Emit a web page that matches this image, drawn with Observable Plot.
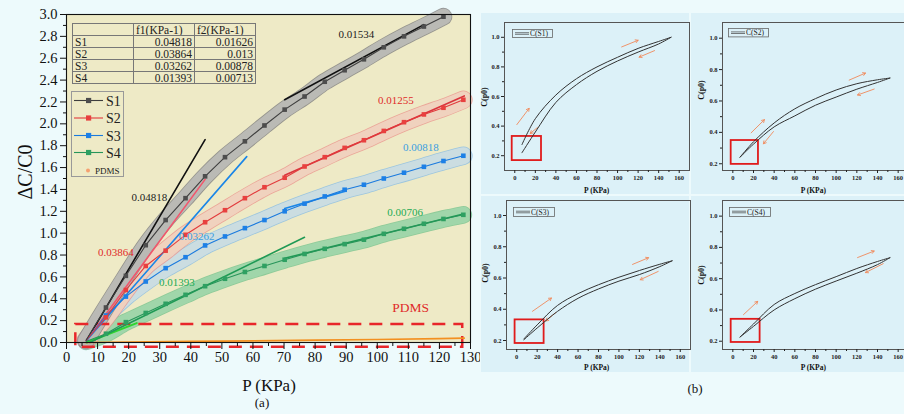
<!DOCTYPE html>
<html><head><meta charset="utf-8">
<script src="https://cdn.jsdelivr.net/npm/d3@7"></script>
<script src="https://cdn.jsdelivr.net/npm/@observablehq/plot@0.6"></script>
<style>
html,body{margin:0;padding:0;background:#edfafc;}
#root{position:relative;width:904px;height:414px;overflow:hidden;background:#edfafc;font-family:"Liberation Serif",serif;color:#111;}
#root > *{position:absolute;}
table.t{border-collapse:collapse;font-size:11.5px;font-family:"Liberation Serif",serif;color:#222;}
table.t td{border:1px solid #777;padding:0 2px;height:11px;line-height:10px;overflow:hidden;}
</style></head><body><div id="root"></div>
<script>
// ---------- DATA (a) ----------
const pressure = [6.3, 12.7, 19.1, 25.5, 31.9, 38.3, 44.6, 51.0, 57.4, 63.7, 70.2, 76.6, 83.1, 89.5, 95.7, 102.1, 108.6, 115.0, 121.3, 127.7];
const s1 = [0.02, 0.32, 0.61, 0.89, 1.12, 1.32, 1.52, 1.695, 1.84, 1.985, 2.13, 2.25, 2.385, 2.49, 2.59, 2.70, 2.80, 2.89, 2.98];
const s2 = [0.02, 0.23, 0.48, 0.70, 0.84, 0.985, 1.10, 1.21, 1.32, 1.42, 1.507, 1.61, 1.695, 1.78, 1.85, 1.935, 2.015, 2.086, 2.147, 2.22];
const s3 = [0.02, 0.247, 0.42, 0.558, 0.68, 0.78, 0.888, 0.97, 1.046, 1.12, 1.20, 1.27, 1.336, 1.397, 1.443, 1.50, 1.553, 1.607, 1.66, 1.708];
const s4 = [0.01, 0.08, 0.186, 0.27, 0.354, 0.436, 0.515, 0.583, 0.645, 0.70, 0.757, 0.81, 0.857, 0.90, 0.94, 0.994, 1.04, 1.086, 1.13, 1.168];
const pdmsX = [6, 20, 40, 60, 80, 100, 120, 128];
const pdmsY = [0, 0.004, 0.01, 0.015, 0.022, 0.028, 0.035, 0.04];
const greenShortX = [6.5, 22.6];
const greenShortY = [0, 0.177];
// linear fits: slope, start x, start y, end x
const fitText  = ["0.04818","0.01534","0.03864","0.01255","0.03262","0.00818","0.01393","0.00706"];
const fitSlope = [0.04818, 0.01534, 0.03864, 0.01255, 0.03262, 0.00818, 0.01393, 0.00706];
const fitX0 = [6.5, 70.2, 6.5, 70.2, 6.5, 70.2, 7.5, 70.2];
const fitY0 = [0.02, 2.22, 0.02, 1.53, 0.02, 1.225, 0.0, 0.77];
const fitX1 = [44.6, 115, 44.6, 128, 58, 90, 76.6, 128];
const fitLabelX = [26.7, 93.3, 15.9, 106, 41.9, 114, 35.5, 109];
const fitLabelY = [1.33, 2.815, 0.82, 2.21, 0.97, 1.78, 0.55, 1.19];
const pdmsBox = [3, 127.5, -0.043, 0.165];
const tableNames = ["S1","S2","S3","S4"];
const tableF1 = ["0.04818","0.03864","0.03262","0.01393"];
const tableF2 = ["0.01626","0.013","0.00878","0.00713"];
const xTicks = [0,10,20,30,40,50,60,70,80,90,100,110,120,130];
const yTicks = [0,0.2,0.4,0.6,0.8,1.0,1.2,1.4,1.6,1.8,2.0,2.2,2.4,2.6,2.8,3.0];

// ---------- DATA (b) ----------
const hx = [7, 20, 40, 60, 80, 100, 120, 140, 152];
const c1Load = [0.275, 0.45, 0.61, 0.72, 0.80, 0.865, 0.925, 0.972, 1.0];
const c1Unload = [0.22, 0.36, 0.56, 0.68, 0.77, 0.84, 0.90, 0.955, 1.0];
const c2Load = [0.242, 0.34, 0.46, 0.55, 0.615, 0.67, 0.71, 0.735, 0.746];
const c2Unload = [0.242, 0.325, 0.435, 0.505, 0.573, 0.625, 0.675, 0.718, 0.746];
const c3Load = [0.21, 0.30, 0.425, 0.50, 0.557, 0.605, 0.648, 0.688, 0.71];
const c3Unload = [0.205, 0.28, 0.387, 0.47, 0.53, 0.58, 0.622, 0.673, 0.71];
const c4Load = [0.227, 0.31, 0.435, 0.505, 0.562, 0.613, 0.665, 0.71, 0.734];
const c4Unload = [0.227, 0.295, 0.40, 0.472, 0.533, 0.585, 0.635, 0.69, 0.734];
const arrows1 = [[2,0.41,14,0.52],[104,0.935,120,0.98],[136,0.91,121,0.866],[22,0.39,15,0.35]];
const arrows2 = [[17.7,0.397,30.6,0.481],[112.6,0.733,128.4,0.778],[136.8,0.676,120.7,0.638],[39.3,0.405,29.6,0.327]];
const arrows3 = [[15.4,0.387,34,0.472],[113.3,0.687,129,0.73],[138.4,0.642,120.8,0.589],[38.2,0.379,28.4,0.325]];
const arrows4 = [[10.3,0.37,24.1,0.455],[120.7,0.735,136.8,0.777],[145.5,0.696,128.4,0.639]];
const boxes = [[-2.5,26,0.167,0.33],[-1.6,24.8,0.196,0.348],[-1.6,26.8,0.181,0.332],[-1.6,26.4,0.192,0.34]];
const subNames = ["C(S1)","C(S2)","C(S3)","C(S4)"];

const root = document.getElementById("root");
const serif = '"Liberation Serif", serif';

function pts(xs, ys, s){ return ys.map((v,i)=>({x: xs[i], y: v, s})); }
const d1 = pts(pressure, s1, "S1"), d2 = pts(pressure, s2, "S2"), d3s = pts(pressure, s3, "S3"), d4 = pts(pressure, s4, "S4");
const pdms = pts(pdmsX, pdmsY, "PDMS");
const gShort = pts(greenShortX, greenShortY, "g");
const fitColors = ["#111","#111","#f2566c","#d9343c","#1a86e8","#1a86e8","#1f9a55","#1f9a55"];
const labelColors = ["#222","#222","#e02a2a","#e02a2a","#3a9ee0","#3a9ee0","#22aa55","#22aa55"];
const fits = [];
fitSlope.forEach((m,i)=>{
  fits.push({k:i, x: fitX0[i], y: fitY0[i]});
  fits.push({k:i, x: fitX1[i], y: fitY0[i] + m*(fitX1[i]-fitX0[i])});
});
const fitLabels = fitText.map((t,i)=>({t, x: fitLabelX[i], y: fitLabelY[i], c: labelColors[i]}));

function band(data, edge, fill, w, eo, fo){
  return [
    Plot.line(data, {x:"x", y:"y", stroke: edge, strokeWidth: w+1.6, strokeOpacity: eo, strokeLinecap:"round", strokeLinejoin:"round", curve:"catmull-rom"}),
    Plot.line(data, {x:"x", y:"y", stroke: fill, strokeWidth: w, strokeOpacity: fo, strokeLinecap:"round", strokeLinejoin:"round", curve:"catmull-rom"})
  ];
}
function ser(data, col, mcol){
  return [
    Plot.line(data, {x:"x", y:"y", stroke: col, strokeWidth: 1.1}),
    Plot.dot(data.slice(1), {x:"x", y:"y", symbol:"square", r: 2.6, fill: mcol, stroke: "none"})
  ];
}

// background cards for (b)
[[481,13,208,181],[691,13,213,181],[481,196,208,176],[691,196,213,176]].forEach(([l,t,w,h])=>{
  const d = document.createElement("div");
  d.style.cssText = `left:${l}px;top:${t}px;width:${w}px;height:${h}px;background:#dcf1f8;`;
  root.appendChild(d);
});

const main = Plot.plot({
  width: 480, height: 414,
  marginLeft: 66, marginRight: 10, marginTop: 14, marginBottom: 72,
  x: {domain: [0,130]},
  y: {domain: [0,3]},
  style: {background: "transparent", fontFamily: serif, color: "#111"},
  marks: [
    Plot.frame({fill: "#eeeac6", stroke: "none"}),
    ...band(d4, "#4fb57a", "#a6d9b0", 16, 0.6, 0.75),
    ...band(d3s, "#7ab6e8", "#d4e0e2", 17, 0.7, 0.85),
    ...band(d2, "#ea8a86", "#f1d9c4", 17, 0.7, 0.85),
    ...band(d1, "#808080", "#bdbdb8", 16, 0.8, 0.92),
    Plot.rect([pdmsBox], {x1: d=>d[0], x2: d=>d[1], y1: d=>d[2], y2: d=>d[3], fill: "none", stroke: "#e8262a", strokeWidth: 2.5, strokeDasharray: "13,8"}),
    Plot.line(pdms, {x:"x", y:"y", stroke:"#f39020", strokeWidth: 1.6}),
    Plot.line(gShort, {x:"x", y:"y", stroke:"#2fd52f", strokeWidth: 2}),
    Plot.line(fits, {x:"x", y:"y", z:"k", stroke: d=>fitColors[d.k], strokeWidth: 1.6}),
    ...ser(d4, "#27955a", "#2ea062"),
    ...ser(d3s, "#1a7ade", "#1d80e6"),
    ...ser(d2, "#e23a3c", "#e8403f"),
    ...ser(d1, "#3e3e3e", "#4d4d4d"),
    Plot.text(fitLabels, {x:"x", y:"y", text:"t", fill: d=>d.c, fontSize: 11, fontFamily: serif}),
    Plot.text(["PDMS"], {x: 110.7, y: 0.317, text: d=>d, fill: "#e02a2a", fontSize: 13.5, fontFamily: serif}),
    Plot.frame({stroke: "#111", strokeWidth: 1.1}),
    Plot.axisX({ticks: xTicks, tickSize: 7, tickPadding: 2, fontSize: 14.5, label: null, fontFamily: serif}),
    Plot.axisX({ticks: d3.range(5,130,10), tickSize: 4, tickFormat: () => "", label: null}),
    Plot.axisY({ticks: yTicks, tickFormat: ".1f", tickSize: 6, tickPadding: 3, fontSize: 14.5, label: null, fontFamily: serif}),
    Plot.axisY({ticks: d3.range(0.1,3,0.2), tickSize: 3, tickFormat: () => "", label: null})
  ]
});
main.style.left = "0px"; main.style.top = "0px";
root.appendChild(main);

// table
const tbl = document.createElement("table");
tbl.className = "t";
tbl.style.left = "72px"; tbl.style.top = "23px";
let html = `<tr><td style="width:56px"></td><td style="width:56px">f1(KPa-1)</td><td style="width:56px">f2(KPa-1)</td></tr>`;
tableNames.forEach((n,i)=>{ html += `<tr><td>${n}</td><td style="text-align:right">${tableF1[i]}</td><td style="text-align:right">${tableF2[i]}</td></tr>`; });
tbl.innerHTML = html;
root.appendChild(tbl);

// legend (a)
const leg = d3.create("svg").attr("width", 53).attr("height", 86);
leg.node().style.left = "71px"; leg.node().style.top = "91px";
leg.append("rect").attr("x",0.5).attr("y",0.5).attr("width",52).attr("height",85).attr("fill","none").attr("stroke","#999");
const legItems = [["S1","#3e3e3e","#4d4d4d",9.5],["S2","#e23a3c","#e8403f",27],["S3","#1a7ade","#1d80e6",44.5],["S4","#27955a","#2ea062",61.5]];
legItems.forEach(([n,c,m,y])=>{
  leg.append("line").attr("x1",3).attr("x2",32).attr("y1",y).attr("y2",y).attr("stroke",c).attr("stroke-width",1.1);
  leg.append("rect").attr("x",15).attr("y",y-2.6).attr("width",5.2).attr("height",5.2).attr("fill",m);
  leg.append("text").attr("x",35).attr("y",y+5).attr("font-size",14).attr("font-family",serif).attr("fill","#222").text(n);
});
leg.append("circle").attr("cx",17).attr("cy",79.5).attr("r",2).attr("fill","#f5a070");
leg.append("text").attr("x",24).attr("y",82.5).attr("font-size",9).attr("font-family",serif).attr("fill","#222").text("PDMS");
root.appendChild(leg.node());

function txt(str, x, y, size, extra){
  const d = document.createElement("div");
  d.textContent = str;
  const rot = extra && extra.rot ? " rotate(-90deg)" : "";
  d.style.cssText = `left:${x}px;top:${y}px;transform:translate(-50%,-50%)${rot};white-space:nowrap;font-size:${size}px;font-family:${serif};line-height:1;${extra && extra.bold ? "font-weight:bold;" : ""}color:#111;`;
  root.appendChild(d);
}
txt("ΔC/C0", 25, 172, 20, {rot:true});
txt("P (KPa)", 269, 385, 17);
txt("(a)", 262, 402, 13);
txt("(b)", 695, 388, 13);

// ---------- (b) subplots ----------
const subs = [
  {left:480, top:0,   w:212, h:200, ml:24, mt:22, mb:30, yd:[0.1,1.1],   up:c1Load, dn:c1Unload, ar:arrows1},
  {left:690, top:0,   w:221, h:200, ml:32, mt:22, mb:30, yd:[0.157,1.1], up:c2Load, dn:c2Unload, ar:arrows2},
  {left:480, top:195, w:213, h:219, ml:26, mt:5,  mb:65, yd:[0.1425,1.096], up:c3Load, dn:c3Unload, ar:arrows3},
  {left:690, top:195, w:221, h:219, ml:32, mt:5,  mb:65, yd:[0.147,1.1], up:c4Load, dn:c4Unload, ar:arrows4}
];
subs.forEach((c, i)=>{
  const load = pts(hx, c.up, "u"), unload = pts(hx, c.dn, "d");
  const p = Plot.plot({
    width: c.w, height: c.h, marginLeft: c.ml, marginRight: 3, marginTop: c.mt, marginBottom: c.mb,
    x: {domain: [-10,170]}, y: {domain: c.yd},
    style: {background: "transparent", fontFamily: serif, fontWeight: "bold", color: "#222"},
    marks: [
      Plot.rect([boxes[i]], {x1: d=>d[0], x2: d=>d[1], y1: d=>d[2], y2: d=>d[3], fill: "none", stroke: "#e01b1b", strokeWidth: 1.8}),
      Plot.arrow(c.ar, {x1: d=>d[0], y1: d=>d[1], x2: d=>d[2], y2: d=>d[3], stroke: "#f0895a", strokeWidth: 0.9, headLength: 5}),
      Plot.line(load, {x:"x", y:"y", curve:"catmull-rom", stroke:"#333", strokeWidth: 1}),
      Plot.line(unload, {x:"x", y:"y", curve:"catmull-rom", stroke:"#333", strokeWidth: 1}),
      Plot.frame({stroke: "#555", strokeWidth: 1}),
      Plot.axisX({ticks: d3.range(0,161,20), tickSize: 3, tickPadding: 2, fontSize: 6.5, label: null, fontWeight: "bold"}),
      Plot.axisX({ticks: d3.range(10,170,20), tickSize: 2, tickFormat: () => "", label: null}),
      Plot.axisY({ticks: [0.2,0.4,0.6,0.8,1.0], tickFormat: ".1f", tickSize: 3, tickPadding: 2, fontSize: 6.5, label: null, fontWeight: "bold"}),
      Plot.axisY({ticks: [0.3,0.5,0.7,0.9], tickSize: 2, tickFormat: () => "", label: null})
    ]
  });
  p.style.left = c.left + "px"; p.style.top = c.top + "px";
  root.appendChild(p);
});
// axis titles (b)
[[485,97],[701.7,90],[486,273],[701.7,275]].forEach(([x,y])=>txt("C(p0)", x, y, 8, {rot:true, bold:true}));
[[596.7,190.7],[813.3,190.7],[596.7,368.3],[813.3,368.3]].forEach(([x,y])=>txt("P (KPa)", x, y, 7.5, {bold:true}));
// mini legends (b)
[[512,29,41,9],[727.7,28.3,41,9.4],[513.3,206.7,42,10],[729,206.7,42,10]].forEach(([l,t,w,h],i)=>{
  const s = d3.create("svg").attr("width", w).attr("height", h);
  s.node().style.left = l+"px"; s.node().style.top = t+"px";
  s.append("rect").attr("x",0.5).attr("y",0.5).attr("width",w-1).attr("height",h-1).attr("fill","none").attr("stroke","#666").attr("stroke-width",0.8);
  s.append("line").attr("x1",3).attr("x2",17).attr("y1",h/2-0.8).attr("y2",h/2-0.8).attr("stroke","#444").attr("stroke-width",0.7);
  s.append("line").attr("x1",3).attr("x2",17).attr("y1",h/2+0.8).attr("y2",h/2+0.8).attr("stroke","#444").attr("stroke-width",0.7);
  s.append("text").attr("x",18).attr("y",h/2+2.6).attr("font-size",7.5).attr("font-family",serif).attr("fill","#222").text(subNames[i]);
  root.appendChild(s.node());
});
</script></body></html>
